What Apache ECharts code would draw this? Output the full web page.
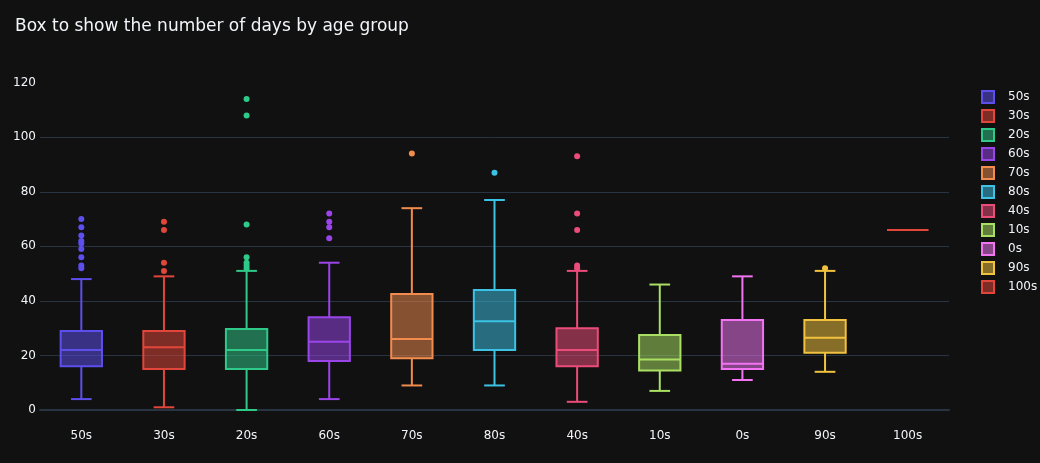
<!DOCTYPE html>
<html>
<head>
<meta charset="utf-8">
<script src="https://cdn.jsdelivr.net/npm/echarts@6/dist/echarts.min.js"></script>
<style>
html,body{margin:0;padding:0;background:#111111;}
#chart{width:1040px;height:463px;}
</style>
</head>
<body>
<div id="chart"></div>
<script>
// Categories (age groups), in plot order
const groups = ['50s','30s','20s','60s','70s','80s','40s','10s','0s','90s','100s'];
// Box statistics per group: [lower whisker, Q1, median, Q3, upper whisker]
const boxStats = [
  [4, 16, 22, 29, 48],
  [1, 15, 23, 29, 49],
  [0, 15, 22, 29.7, 51],
  [4, 18, 25, 34, 54],
  [9, 19, 26, 42.5, 74],
  [9, 22, 32.5, 44, 77],
  [3, 16, 22, 30, 51],
  [7, 14.5, 18.5, 27.5, 46],
  [11, 15, 17, 33, 49],
  [14, 21, 26.5, 33, 51],
  [66, 66, 66, 66, 66]
];
// Outliers per group
const outliers = [
  [52, 53, 56, 59, 61, 62, 64, 67, 70],
  [51, 54, 66, 69],
  [52, 53, 54, 56, 68, 108, 114],
  [63, 67, 69, 72],
  [94],
  [87],
  [52, 53, 66, 72, 93],
  [],
  [],
  [52],
  []
];
// Colours per group
const colors = ['#5d4fec','#e2463a','#2fc98a','#9a45ea','#f28c4e','#3cc2e4','#ec4c7a','#a9e063','#f274f2','#f2c23e','#e2463a'];
// Y ticks
const yTicks = [0, 20, 40, 60, 80, 100, 120];

function hexA(hex, a) {
  const h = hex.replace('#','');
  const r = parseInt(h.substr(0,2),16), g = parseInt(h.substr(2,2),16), b = parseInt(h.substr(4,2),16);
  return 'rgba(' + r + ',' + g + ',' + b + ',' + a + ')';
}

const FONT = 'DejaVu Sans';
const TXT = '#f2f5fa';
const GRID = '#283442';

function makeRender(color) {
  return function (params, api) {
    const ci = api.value(0);
    const band = api.size([1, 0])[0];
    const cx = api.coord([ci, 0])[0];
    const yMin = api.coord([ci, api.value(1)])[1];
    const yQ1 = api.coord([ci, api.value(2)])[1];
    const yMed = api.coord([ci, api.value(3)])[1];
    const yQ3 = api.coord([ci, api.value(4)])[1];
    const yMax = api.coord([ci, api.value(5)])[1];
    const bw = band * 0.5;
    const cw = band * 0.25;
    const ls = { stroke: color, lineWidth: 2 };
    return {
      type: 'group',
      children: [
        { type: 'line', shape: { x1: cx, y1: yQ1, x2: cx, y2: yMin }, style: ls },
        { type: 'line', shape: { x1: cx, y1: yQ3, x2: cx, y2: yMax }, style: ls },
        { type: 'line', shape: { x1: cx - cw/2, y1: yMin, x2: cx + cw/2, y2: yMin }, style: ls },
        { type: 'line', shape: { x1: cx - cw/2, y1: yMax, x2: cx + cw/2, y2: yMax }, style: ls },
        { type: 'rect', shape: { x: cx - bw/2, y: yQ3, width: bw, height: yQ1 - yQ3 },
          style: { fill: hexA(color, 0.52), stroke: color, lineWidth: 2 } },
        { type: 'line', shape: { x1: cx - bw/2, y1: yMed, x2: cx + bw/2, y2: yMed }, style: ls }
      ]
    };
  };
}

const series = [];
groups.forEach(function (g, i) {
  series.push({
    name: g,
    type: 'custom',
    renderItem: makeRender(colors[i]),
    encode: { x: 0, y: [1, 2, 3, 4, 5] },
    data: [[i].concat(boxStats[i])],
    itemStyle: { color: colors[i] },
    z: 2
  });
  series.push({
    name: g,
    type: 'scatter',
    symbolSize: 6,
    itemStyle: { color: colors[i], opacity: 1 },
    data: outliers[i].map(function (v) { return [i, v]; }),
    z: 3
  });
});

const chart = echarts.init(document.getElementById('chart'), null, { renderer: 'canvas' });
chart.setOption({
  backgroundColor: '#111111',
  animation: false,
  title: {
    text: 'Box to show the number of days by age group',
    left: 10, top: 13,
    textStyle: { color: TXT, fontSize: 17, fontWeight: 'normal', fontFamily: FONT }
  },
  legend: {
    orient: 'vertical',
    left: 976, top: 85,
    itemWidth: 12, itemHeight: 12, itemGap: 5,
    icon: 'rect',
    textStyle: { color: TXT, fontSize: 12, fontFamily: FONT, padding: [0, 0, 0, 9] },
    data: groups.map(function (g, i) {
      return { name: g, itemStyle: { color: hexA(colors[i], 0.52), borderColor: colors[i], borderWidth: 2 } };
    })
  },
  grid: { left: 40, right: 91, top: 82.7, bottom: 53 },
  xAxis: {
    type: 'category',
    data: groups,
    boundaryGap: true,
    axisLine: { show: true, lineStyle: { color: GRID, width: 2 } },
    axisTick: { show: false },
    axisLabel: { color: TXT, fontSize: 12, fontFamily: FONT, margin: 20 },
    splitLine: { show: false }
  },
  yAxis: {
    type: 'value',
    min: yTicks[0], max: yTicks[yTicks.length - 1], interval: 20,
    axisLine: { show: false },
    axisTick: { show: false },
    axisLabel: { color: TXT, fontSize: 12, fontFamily: FONT, margin: 4 },
    splitLine: { show: true, lineStyle: { color: [GRID, GRID, GRID, GRID, GRID, GRID, 'rgba(0,0,0,0)'], width: 1 } }
  },
  series: series
});
</script>
</body>
</html>
